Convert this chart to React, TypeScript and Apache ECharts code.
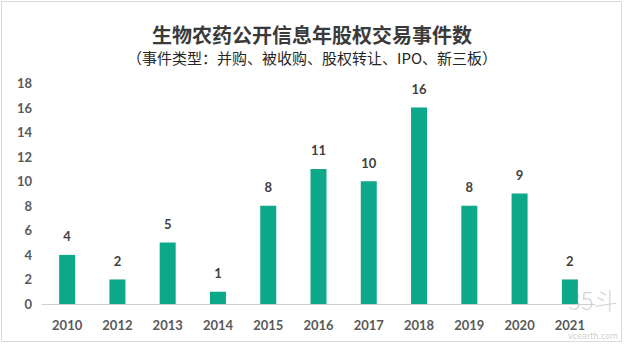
import React, { useEffect, useRef } from "react";
import * as echarts from "echarts";

const categories = ["2010", "2012", "2013", "2014", "2015", "2016", "2017", "2018", "2019", "2020", "2021"];
const values = [4, 2, 5, 1, 8, 11, 10, 16, 8, 9, 2];
const titleText = "生物农药公开信息年股权交易事件数";
const subtitleText = "（事件类型：并购、被收购、股权转让、IPO、新三板）";

export default function App() {
  const ref = useRef<HTMLDivElement>(null);
  useEffect(() => {
    if (!ref.current) return;
    const chart = echarts.init(ref.current, undefined, { renderer: "svg" });
    chart.setOption({
      animation: false,
      backgroundColor: "#ffffff",
      title: [
        {
          text: titleText,
          left: "center",
          top: 17,
          textStyle: { fontFamily: "Noto Sans CJK SC", fontSize: 20, fontWeight: "bold", color: "#3a3a3a", lineHeight: 24 },
        },
        {
          text: subtitleText,
          left: "center",
          top: 43,
          textStyle: { fontFamily: "Noto Sans CJK SC", fontSize: 15, fontWeight: "normal", color: "#262626", lineHeight: 18 },
        },
      ],
      grid: { left: 42, right: 29, top: 83, bottom: 40 },
      xAxis: {
        type: "category",
        data: categories,
        axisLine: { show: true, lineStyle: { color: "#d0d0d0", width: 1 } },
        axisTick: { show: false },
        axisLabel: { color: "#595959", fontFamily: "Lato", fontWeight: "bold", fontSize: 13, margin: 14 },
      },
      yAxis: {
        type: "value",
        min: 0,
        max: 18,
        interval: 2,
        splitLine: { show: false },
        axisLine: { show: false },
        axisTick: { show: false },
        axisLabel: { color: "#595959", fontFamily: "Lato", fontWeight: "bold", fontSize: 13, margin: 10 },
      },
      series: [
        {
          type: "bar",
          data: values,
          barWidth: 16,
          itemStyle: { color: "#0da88a" },
          label: {
            show: true,
            position: "top",
            distance: 12,
            color: "#404040",
            fontFamily: "Lato",
            fontWeight: "bold",
            fontSize: 13,
          },
        },
      ],
      graphic: [
        {
          type: "rect",
          shape: { x: 1.5, y: 1.5, width: 620, height: 340 },
          style: { fill: "none", stroke: "#d9d9d9", lineWidth: 1 },
          silent: true,
        },
        {
          type: "text",
          x: 568,
          y: 287,
          style: { text: "35斗", fill: "rgba(170,170,170,0.5)", font: "300 24px 'Noto Sans CJK SC'" },
          silent: true,
        },
        {
          type: "text",
          x: 568,
          y: 332,
          style: { text: "vcearth.com", fill: "rgba(170,170,170,0.6)", font: "8px 'DejaVu Sans'" },
          silent: true,
        },
      ],
    });
    return () => chart.dispose();
  }, []);
  return <div ref={ref} style={{ position: "absolute", left: 0, top: 0, width: 624, height: 344 }} />;
}
